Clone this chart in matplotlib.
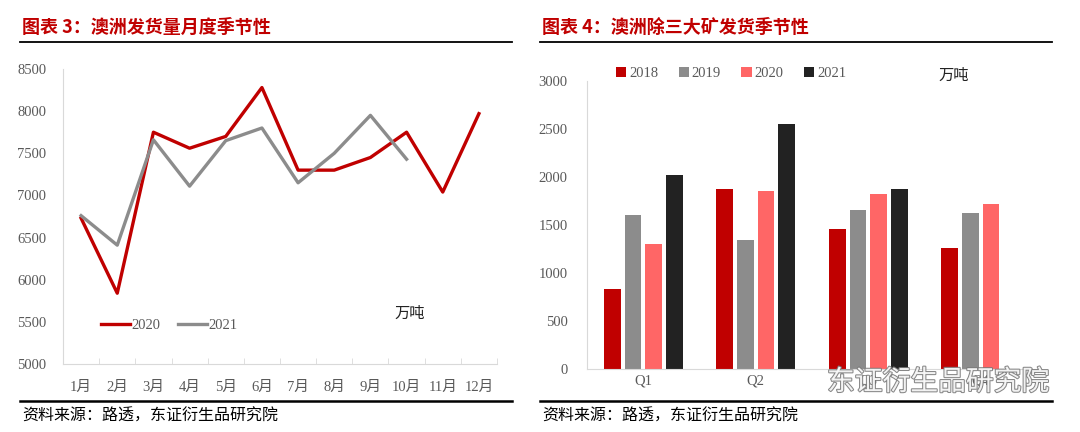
import matplotlib
matplotlib.use("Agg")
import matplotlib.pyplot as plt
import matplotlib.patheffects as pe
import numpy as np

plt.rcParams['font.family'] = ['Liberation Serif', 'Noto Sans CJK SC']

# 图表3 数据
months = ['1月', '2月', '3月', '4月', '5月', '6月', '7月', '8月', '9月', '10月', '11月', '12月']
ship_2020 = [6730, 5840, 7750, 7560, 7700, 8280, 7300, 7300, 7450, 7750, 7040, 7970]
ship_2021 = [6760, 6410, 7660, 7110, 7650, 7800, 7150, 7500, 7950, 7430]

# 图表4 数据
quarters = ['Q1', 'Q2', 'Q3', 'Q4']
years = ['2018', '2019', '2020', '2021']
q_2018 = [830, 1880, 1460, 1260]
q_2019 = [1600, 1340, 1660, 1630]
q_2020 = [1300, 1850, 1820, 1720]
q_2021 = [2020, 2550, 1870, np.nan]

W, H = 1080, 432
fig = plt.figure(figsize=(10.8, 4.32), dpi=100)
fig.patch.set_facecolor('white')

def px(x, y):
    return x / W, 1 - y / H

cjk = ['Noto Sans CJK SC', 'DejaVu Sans']
red = '#C00000'
grey = '#8C8C8C'
tick_col = '#595959'

# titles, rules, source lines
for x0, x1, title in [(20, 512, '图表 3：澳洲发货量月度季节性'), (540, 1052, '图表 4：澳洲除三大矿发货季节性')]:
    fig.text(*px(x0 + 2, 27), title, color=red, fontsize=13, fontweight='bold',
             family=cjk, va='center', ha='left')
    fig.add_artist(plt.Line2D([x0 / W, x1 / W], [1 - 42 / H] * 2, color='black', lw=1.3))
    fig.add_artist(plt.Line2D([x0 / W, x1 / W], [1 - 401 / H] * 2, color='black', lw=1.8))
    fig.text(*px(x0 + 2, 416), '资料来源：路透，东证衍生品研究院', color='black', fontsize=11.5,
             family=cjk, va='center', ha='left')

def style(ax):
    for s in ['top', 'right']:
        ax.spines[s].set_visible(False)
    for s in ['left', 'bottom']:
        ax.spines[s].set_color('#D9D9D9')
    ax.tick_params(axis='both', colors=tick_col, labelsize=10.5, length=0)
    for lab in ax.get_xticklabels() + ax.get_yticklabels():
        lab.set_color(tick_col)

# 左图
ax1 = fig.add_axes([63 / W, 1 - 364 / H, (497 - 63) / W, (364 - 69) / H])
x = np.arange(len(months))
ax1.plot(x, ship_2020, color=red, lw=2.4, label='2020')
ax1.plot(x[:len(ship_2021)], ship_2021, color=grey, lw=2.4, label='2021')
ax1.set_xlim(-0.5, 11.5)
ax1.set_ylim(5000, 8500)
ax1.set_yticks(np.arange(5000, 8501, 500))
ax1.set_xticks(x)
ax1.set_xticklabels(months, family=['Liberation Serif', 'Noto Sans CJK SC'])
ax1.set_xticks(np.arange(-0.5, 12, 1), minor=True)
style(ax1)
ax1.tick_params(axis='x', which='minor', direction='in', length=4, color='#D9D9D9')
ax1.tick_params(axis='x', pad=12)
ax1.tick_params(axis='y', pad=12)
leg1 = ax1.legend(loc='center', bbox_to_anchor=(0.245, 0.13), ncol=2, frameon=False,
                  fontsize=10.5, handlelength=2.0, handletextpad=0.1, columnspacing=1.2)
for t in leg1.get_texts():
    t.set_color(tick_col)
fig.text(*px(410, 313), '万吨', fontsize=11, family=cjk, ha='center', va='center', color='#222222')

# 右图
ax2 = fig.add_axes([587 / W, 1 - 369 / H, 450 / W, (369 - 81) / H])
qx = np.arange(len(quarters))
bw = 0.15
step = 0.183
colors = [red, grey, '#FF6666', '#222222']
for i, (vals, c, yr) in enumerate(zip([q_2018, q_2019, q_2020, q_2021], colors, years)):
    ax2.bar(qx + (i - 1.5) * step, vals, width=bw, color=c, label=yr)
ax2.set_xlim(-0.5, 3.5)
ax2.set_ylim(0, 3000)
ax2.set_yticks(np.arange(0, 3001, 500))
ax2.set_xticks(qx)
ax2.set_xticklabels(quarters)
style(ax2)
ax2.tick_params(axis='x', pad=4)
ax2.tick_params(axis='y', pad=14)
leg2 = ax2.legend(loc='center', bbox_to_anchor=(0.32, 1.025), ncol=4, frameon=False,
                  fontsize=10.5, handlelength=0.7, handleheight=0.7, handletextpad=0.2,
                  columnspacing=1.4)
for t in leg2.get_texts():
    t.set_color(tick_col)
fig.text(*px(954, 75), '万吨', fontsize=11, family=cjk, ha='center', va='center', color='#222222')

# 水印
wm = fig.text(*px(938, 382), '东证衍生品研究院', fontsize=20, family=cjk, ha='center', va='center',
              color='white', alpha=0.9)
wm.set_path_effects([pe.withStroke(linewidth=1.5, foreground='#7a7a7a')])

fig.savefig('out.png', dpi=100, facecolor='white')
